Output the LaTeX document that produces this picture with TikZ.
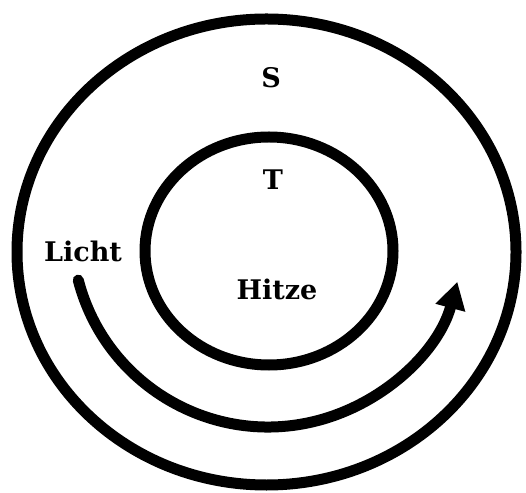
\documentclass[tikz,border=0pt]{standalone}
\usepackage{fontspec}
\setmainfont{DejaVu Serif}
\usetikzlibrary{arrows.meta,calc}
\tikzset{ring/.style={line width=11pt},
  lbl/.style={font=\bfseries\fontsize{27}{32}\selectfont,inner sep=0pt}}
\begin{document}
\begin{tikzpicture}[x=1pt,y=1pt]
  \useasboundingbox (0,0) rectangle (526,492);
  \draw[ring] (266.5,240) ellipse[x radius=249.5,y radius=233];
  \draw[ring] (269,241) ellipse[x radius=124,y radius=114];
  \node[lbl] (s) at (271,414) {S}; \node[lbl] (t) at (273,312) {T};
  \node[lbl] (licht) at (83,241) {Licht}; \node[lbl] (hitze) at (277,203) {Hitze};
  \coordinate (flow) at ($(268,261)+(194.5:196)$);
  \draw[ring,line cap=round,-{Triangle[length=27pt,width=29pt]}] (flow) arc[start angle=194.5,end angle=345,radius=196];
\end{tikzpicture}
\end{document}
